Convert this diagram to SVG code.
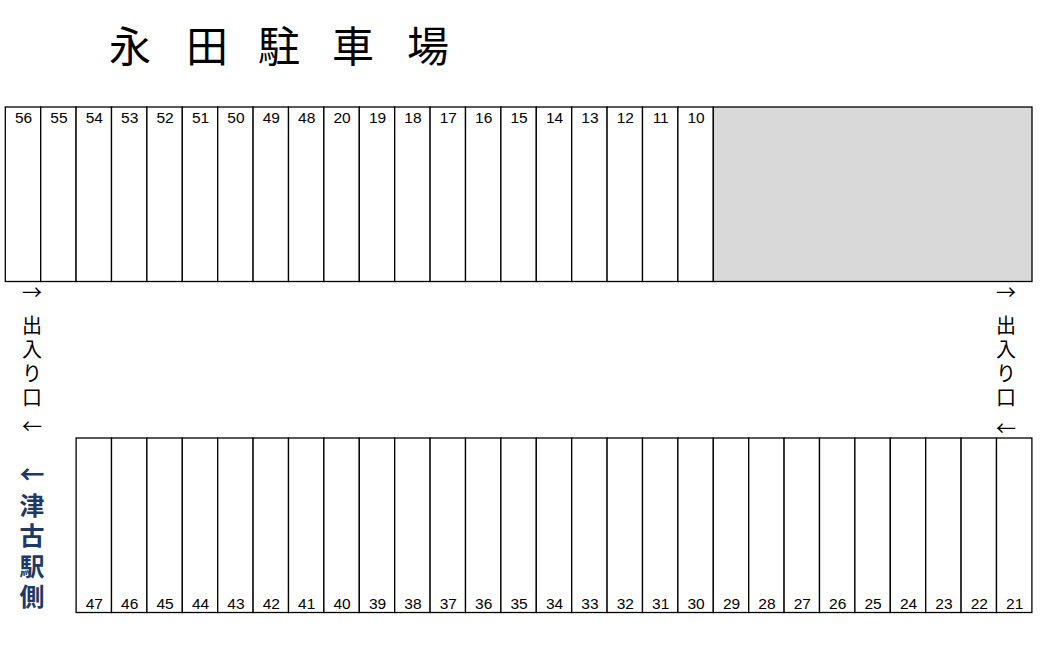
<svg xmlns="http://www.w3.org/2000/svg" width="1057" height="655" viewBox="0 0 1057 655">
<style>
.cell{fill:#fff;stroke:#000;stroke-width:1.3}
.gray{fill:#d9d9d9;stroke:#000;stroke-width:1.3}
.num{font-family:"Liberation Sans",Arial,sans-serif;font-size:15.5px;fill:#000;text-anchor:middle}
.title{font-family:"Noto Sans CJK JP","Noto Sans",sans-serif;font-size:42px;fill:#000}
.ent{font-family:"Noto Sans CJK JP","Noto Sans",sans-serif;font-size:20px;fill:#000;text-anchor:middle}
.dir{font-family:"Noto Sans CJK JP","Noto Sans",sans-serif;font-size:25px;font-weight:bold;fill:#1f3864;text-anchor:middle}
</style>
<rect x="0" y="0" width="1057" height="655" fill="#fff"/>
<g id="title">
<text class="title" x="109 151 186 228 258 300 332 374 407" y="62">永 田 駐 車 場</text>
</g>
<g id="top-row">
<g id="cell-56"><rect class="cell" x="5.3" y="107" width="35.4" height="174.5"/><text class="num" x="23.5" y="123">56</text></g>
<g id="cell-55"><rect class="cell" x="40.7" y="107" width="35.4" height="174.5"/><text class="num" x="58.9" y="123">55</text></g>
<g id="cell-54"><rect class="cell" x="76.1" y="107" width="35.4" height="174.5"/><text class="num" x="94.3" y="123">54</text></g>
<g id="cell-53"><rect class="cell" x="111.5" y="107" width="35.4" height="174.5"/><text class="num" x="129.7" y="123">53</text></g>
<g id="cell-52"><rect class="cell" x="146.9" y="107" width="35.4" height="174.5"/><text class="num" x="165.1" y="123">52</text></g>
<g id="cell-51"><rect class="cell" x="182.3" y="107" width="35.4" height="174.5"/><text class="num" x="200.5" y="123">51</text></g>
<g id="cell-50"><rect class="cell" x="217.7" y="107" width="35.4" height="174.5"/><text class="num" x="235.9" y="123">50</text></g>
<g id="cell-49"><rect class="cell" x="253.1" y="107" width="35.4" height="174.5"/><text class="num" x="271.3" y="123">49</text></g>
<g id="cell-48"><rect class="cell" x="288.5" y="107" width="35.4" height="174.5"/><text class="num" x="306.7" y="123">48</text></g>
<g id="cell-20"><rect class="cell" x="323.9" y="107" width="35.4" height="174.5"/><text class="num" x="342.1" y="123">20</text></g>
<g id="cell-19"><rect class="cell" x="359.3" y="107" width="35.4" height="174.5"/><text class="num" x="377.5" y="123">19</text></g>
<g id="cell-18"><rect class="cell" x="394.7" y="107" width="35.4" height="174.5"/><text class="num" x="412.9" y="123">18</text></g>
<g id="cell-17"><rect class="cell" x="430.1" y="107" width="35.4" height="174.5"/><text class="num" x="448.3" y="123">17</text></g>
<g id="cell-16"><rect class="cell" x="465.5" y="107" width="35.4" height="174.5"/><text class="num" x="483.7" y="123">16</text></g>
<g id="cell-15"><rect class="cell" x="500.9" y="107" width="35.4" height="174.5"/><text class="num" x="519.1" y="123">15</text></g>
<g id="cell-14"><rect class="cell" x="536.3" y="107" width="35.4" height="174.5"/><text class="num" x="554.5" y="123">14</text></g>
<g id="cell-13"><rect class="cell" x="571.7" y="107" width="35.4" height="174.5"/><text class="num" x="589.9" y="123">13</text></g>
<g id="cell-12"><rect class="cell" x="607.1" y="107" width="35.4" height="174.5"/><text class="num" x="625.3" y="123">12</text></g>
<g id="cell-11"><rect class="cell" x="642.5" y="107" width="35.4" height="174.5"/><text class="num" x="660.7" y="123">11</text></g>
<g id="cell-10"><rect class="cell" x="677.9" y="107" width="35.4" height="174.5"/><text class="num" x="696.1" y="123">10</text></g>
<g id="gray-area"><rect class="gray" x="713.3" y="107" width="318.7" height="174.5"/></g>
</g>
<g id="bottom-row">
<g id="cell-47"><rect class="cell" x="76.1" y="438" width="35.4" height="174.5"/><text class="num" x="94.3" y="609">47</text></g>
<g id="cell-46"><rect class="cell" x="111.5" y="438" width="35.4" height="174.5"/><text class="num" x="129.7" y="609">46</text></g>
<g id="cell-45"><rect class="cell" x="146.9" y="438" width="35.4" height="174.5"/><text class="num" x="165.1" y="609">45</text></g>
<g id="cell-44"><rect class="cell" x="182.3" y="438" width="35.4" height="174.5"/><text class="num" x="200.5" y="609">44</text></g>
<g id="cell-43"><rect class="cell" x="217.7" y="438" width="35.4" height="174.5"/><text class="num" x="235.9" y="609">43</text></g>
<g id="cell-42"><rect class="cell" x="253.1" y="438" width="35.4" height="174.5"/><text class="num" x="271.3" y="609">42</text></g>
<g id="cell-41"><rect class="cell" x="288.5" y="438" width="35.4" height="174.5"/><text class="num" x="306.7" y="609">41</text></g>
<g id="cell-40"><rect class="cell" x="323.9" y="438" width="35.4" height="174.5"/><text class="num" x="342.1" y="609">40</text></g>
<g id="cell-39"><rect class="cell" x="359.3" y="438" width="35.4" height="174.5"/><text class="num" x="377.5" y="609">39</text></g>
<g id="cell-38"><rect class="cell" x="394.7" y="438" width="35.4" height="174.5"/><text class="num" x="412.9" y="609">38</text></g>
<g id="cell-37"><rect class="cell" x="430.1" y="438" width="35.4" height="174.5"/><text class="num" x="448.3" y="609">37</text></g>
<g id="cell-36"><rect class="cell" x="465.5" y="438" width="35.4" height="174.5"/><text class="num" x="483.7" y="609">36</text></g>
<g id="cell-35"><rect class="cell" x="500.9" y="438" width="35.4" height="174.5"/><text class="num" x="519.1" y="609">35</text></g>
<g id="cell-34"><rect class="cell" x="536.3" y="438" width="35.4" height="174.5"/><text class="num" x="554.5" y="609">34</text></g>
<g id="cell-33"><rect class="cell" x="571.7" y="438" width="35.4" height="174.5"/><text class="num" x="589.9" y="609">33</text></g>
<g id="cell-32"><rect class="cell" x="607.1" y="438" width="35.4" height="174.5"/><text class="num" x="625.3" y="609">32</text></g>
<g id="cell-31"><rect class="cell" x="642.5" y="438" width="35.4" height="174.5"/><text class="num" x="660.7" y="609">31</text></g>
<g id="cell-30"><rect class="cell" x="677.9" y="438" width="35.4" height="174.5"/><text class="num" x="696.1" y="609">30</text></g>
<g id="cell-29"><rect class="cell" x="713.3" y="438" width="35.4" height="174.5"/><text class="num" x="731.5" y="609">29</text></g>
<g id="cell-28"><rect class="cell" x="748.7" y="438" width="35.4" height="174.5"/><text class="num" x="766.9" y="609">28</text></g>
<g id="cell-27"><rect class="cell" x="784.1" y="438" width="35.4" height="174.5"/><text class="num" x="802.3" y="609">27</text></g>
<g id="cell-26"><rect class="cell" x="819.5" y="438" width="35.4" height="174.5"/><text class="num" x="837.7" y="609">26</text></g>
<g id="cell-25"><rect class="cell" x="854.9" y="438" width="35.4" height="174.5"/><text class="num" x="873.1" y="609">25</text></g>
<g id="cell-24"><rect class="cell" x="890.3" y="438" width="35.4" height="174.5"/><text class="num" x="908.5" y="609">24</text></g>
<g id="cell-23"><rect class="cell" x="925.7" y="438" width="35.4" height="174.5"/><text class="num" x="943.9" y="609">23</text></g>
<g id="cell-22"><rect class="cell" x="961.1" y="438" width="35.4" height="174.5"/><text class="num" x="979.3" y="609">22</text></g>
<g id="cell-21"><rect class="cell" x="996.5" y="438" width="35.4" height="174.5"/><text class="num" x="1014.7" y="609">21</text></g>
</g>
<g id="entrance-left">
<text class="ent" x="32" y="300">→</text>
<text class="ent" x="32" y="333">出</text>
<text class="ent" x="32" y="357">入</text>
<text class="ent" x="32" y="381">り</text>
<text class="ent" x="32" y="405">口</text>
<text class="ent" x="32" y="434">←</text>
</g>
<g id="entrance-right">
<text class="ent" x="1006" y="300">→</text>
<text class="ent" x="1006" y="333">出</text>
<text class="ent" x="1006" y="357">入</text>
<text class="ent" x="1006" y="381">り</text>
<text class="ent" x="1006" y="405">口</text>
<text class="ent" x="1006" y="436">←</text>
</g>
<g id="direction">
<text class="dir" x="32" y="484">←</text>
<text class="dir" x="32" y="515">津</text>
<text class="dir" x="32" y="545">古</text>
<text class="dir" x="32" y="576">駅</text>
<text class="dir" x="32" y="606">側</text>
</g>
<g id="connectors"></g>
</svg>
